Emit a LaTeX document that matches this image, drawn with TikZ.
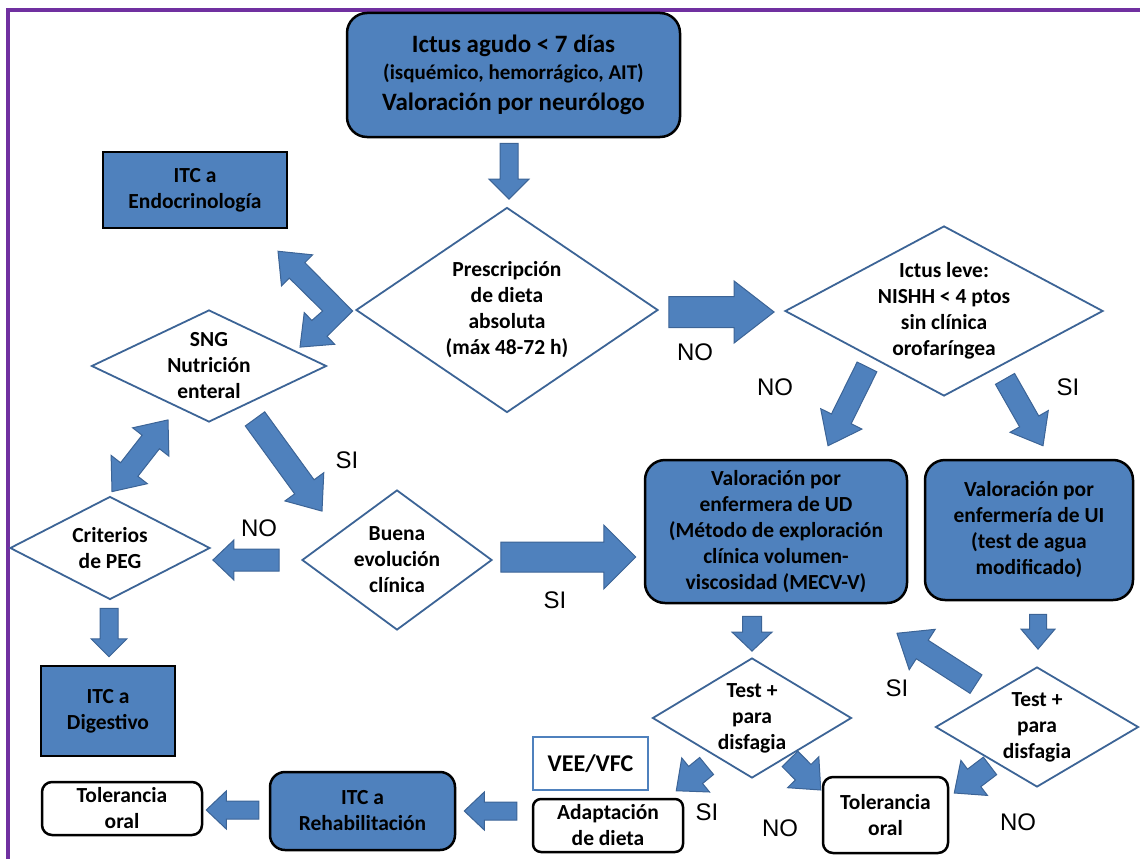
\documentclass[tikz,border=0pt]{standalone}
\usepackage{fontspec}
\setmainfont{Carlito}
\newfontfamily\arialfont{Liberation Sans}
\usetikzlibrary{shapes.geometric,calc}

\definecolor{azul}{HTML}{4F81BD}
\definecolor{azulosc}{HTML}{3C6496}
\definecolor{morado}{HTML}{7030A0}

\tikzset{
  caja/.style={draw=black, line width=2.5pt, fill=azul, align=center, inner sep=0pt,
    font=\bfseries\fontsize{21.5}{26}\selectfont},
  cajar/.style={caja, rounded corners=20pt},
  blanca/.style={caja, fill=white, rounded corners=10pt},
  decision/.style={diamond, draw=azulosc, line width=1.8pt, fill=white, align=center,
    inner sep=-3pt, font=\bfseries\fontsize{21.5}{26}\selectfont},
  flecha/.style={fill=azul, draw=azulosc, line width=1pt, line join=miter},
  etiqueta/.style={font=\arialfont\fontsize{24}{28}\selectfont, inner sep=0pt}
}

% block arrow: from, to, half shaft, half head, head length
\newcommand{\bflecha}[5]{%
  \coordinate (fa) at (#1);
  \coordinate (fb) at (#2);
  \coordinate (fh) at ($(fb)!#5!(fa)$);
  \draw[flecha] ($(fa)!#3!90:(fb)$) -- ($(fh)!#3!90:(fb)$) -- ($(fh)!#4!90:(fb)$) -- (fb)
    -- ($(fh)!#4!-90:(fb)$) -- ($(fh)!#3!-90:(fb)$) -- ($(fa)!#3!-90:(fb)$) -- cycle;}
% block arrow with two heads
\newcommand{\dflecha}[5]{%
  \coordinate (fa) at (#1);
  \coordinate (fb) at (#2);
  \coordinate (fh) at ($(fb)!#5!(fa)$);
  \coordinate (fg) at ($(fa)!#5!(fb)$);
  \draw[flecha] (fa) -- ($(fg)!#4!90:(fb)$) -- ($(fg)!#3!90:(fb)$) -- ($(fh)!#3!90:(fb)$)
    -- ($(fh)!#4!90:(fb)$) -- (fb) -- ($(fh)!#4!-90:(fb)$) -- ($(fh)!#3!-90:(fb)$)
    -- ($(fg)!#3!-90:(fb)$) -- ($(fg)!#4!-90:(fb)$) -- cycle;}

\begin{document}
\begin{tikzpicture}[x=1pt, y=-1pt]
\useasboundingbox (0,0) rectangle (1140,859);
% marco
\draw[morado, line width=4pt] (7.5,859) -- (7.5,10.5) -- (1140,10.5);

% nodos
\node[cajar, minimum width=333pt, minimum height=124pt] (ictus) at (513.5,75)
  {\fontsize{25}{29}\selectfont Ictus agudo < 7 días\\[1pt]
   \fontsize{21}{28}\selectfont (isquémico, hemorrágico, AIT)\\[5pt]
   \fontsize{25}{29}\selectfont Valoración por neurólogo};
\node[caja, minimum width=184pt, minimum height=76pt] (endo) at (195,190) {ITC a\\Endocrinología};
\node[decision, aspect=1.47, minimum width=302pt, minimum height=205pt] (presc) at (507,310)
  {Prescripción\\de dieta\\absoluta\\(máx 48-72 h)};
\node[decision, aspect=1.87, minimum width=318pt, minimum height=170pt] (leve) at (944,311)
  {Ictus leve:\\NISHH < 4 ptos\\sin clínica\\orofaríngea};
\node[decision, aspect=2.05, minimum width=235pt, minimum height=112pt] (sng) at (209,366)
  {SNG\\Nutrición\\enteral};
\node[decision, aspect=1.94, minimum width=200pt, minimum height=103pt] (peg) at (110,548)
  {Criterios\\de PEG};
\node[decision, aspect=1.36, minimum width=190pt, minimum height=140pt] (buena) at (397,560)
  {Buena\\evolución\\clínica};
\node[cajar, minimum width=262pt, minimum height=143pt] (ud) at (776,531.5)
  {Valoración por\\enfermera de UD\\(Método de exploración\\clínica volumen-\\viscosidad (MECV-V)};
\node[cajar, minimum width=208pt, minimum height=140pt] (ui) at (1029,530)
  {Valoración por\\enfermería de UI\\(test de agua\\modificado)};
\node[decision, aspect=1.66, minimum width=199pt, minimum height=120pt] (testud) at (752,718)
  {Test +\\para\\disfagia};
\node[decision, aspect=1.69, minimum width=203pt, minimum height=120pt] (testui) at (1037,727)
  {Test +\\para\\disfagia};
\node[caja, draw=azul, fill=white, minimum width=115pt, minimum height=53pt,
  font=\bfseries\fontsize{24}{28}\selectfont] (vee) at (590.5,763.5) {VEE/VFC};
\node[blanca, rounded corners=8pt, minimum width=150pt, minimum height=53pt] (adapt) at (608,825.5)
  {Adaptación\\de dieta};
\node[blanca, minimum width=125pt, minimum height=76pt] (tolui) at (885.5,815) {Tolerancia\\oral};
\node[cajar, rounded corners=15pt, minimum width=185pt, minimum height=78pt] (rehab) at (362.5,811)
  {ITC a\\Rehabilitación};
\node[blanca, minimum width=160pt, minimum height=53pt] (tolrh) at (122,808.5) {Tolerancia\\oral};
\node[caja, minimum width=134pt, minimum height=90pt] (dig) at (108,711) {ITC a\\Digestivo};

% flechas
\bflecha{$(ictus.south)+(-4.5,5)$}{$(presc.north)+(2,-7.5)$}{9pt}{20pt}{20pt}
\bflecha{$(presc.east)+(10,2)$}{$(leve.west)+(-10,1)$}{15.5pt}{31pt}{40pt}
\bflecha{$(leve.south)+(-77,-30)$}{$(ud.north)+(52,-13)$}{11pt}{23pt}{30pt}
\bflecha{$(leve.south)+(61,-18)$}{$(ui.north)+(14,-13)$}{11pt}{22pt}{28pt}
\bflecha{$(ud.south)+(-24,12)$}{$(testud.north)+(0,-6)$}{9.5pt}{20pt}{19pt}
\bflecha{$(ui.south)+(9,13)$}{$(testui.north)+(1,-17)$}{8.5pt}{17pt}{20pt}
\bflecha{$(testui.north)+(-61,18)$}{$(ud.south)+(121,29)$}{11pt}{24pt}{30pt}
\bflecha{$(testui.south)+(-47,-22)$}{$(tolui.east)+(5,-22)$}{11pt}{22pt}{25pt}
\bflecha{$(testud.west)+(55,48)$}{$(adapt.north east)+(-8,-7)$}{11pt}{22pt}{25pt}
\bflecha{$(testud.south)+(38,-20)$}{$(tolui.west)+(-1,-25)$}{11pt}{22pt}{25pt}
\bflecha{$(adapt.west)+(-15,-14.5)$}{$(rehab.east)+(8,0)$}{9pt}{19pt}{20pt}
\bflecha{$(rehab.west)+(-10,-1)$}{$(tolrh.east)+(3,1.5)$}{9pt}{19pt}{20pt}
\bflecha{$(peg.south)+(-1,8)$}{$(dig.north)+(1,-8)$}{9pt}{18pt}{18pt}
\bflecha{$(buena.west)+(-22,0)$}{$(peg.east)+(2,12)$}{11pt}{20pt}{21pt}
\bflecha{$(buena.east)+(8,-3)$}{$(ud.west)+(-8,25.5)$}{15pt}{32pt}{32pt}
\bflecha{$(sng.south)+(46,-4)$}{$(buena.north)+(-75,22)$}{12pt}{24pt}{30pt}
\dflecha{$(sng.south)+(-41,-3)$}{$(peg.north)+(2,-4)$}{11pt}{23pt}{28pt}

% flecha en codo
\coordinate (codo) at ($(presc.west)+(-17.5,1)$);
\coordinate (codoA) at ($(endo.south)+(83,22)$);
\coordinate (codoB) at ($(sng.north)+(91,38)$);
\coordinate (hA) at ($(codoA)!27pt!(codo)$);
\coordinate (hB) at ($(codoB)!27pt!(codo)$);
\draw[flecha] ($(codo)+(15,0)$) -- ($(hA)!11pt!-90:(codoA)$) -- ($(hA)!22pt!-90:(codoA)$) -- (codoA)
  -- ($(hA)!22pt!90:(codoA)$) -- ($(hA)!11pt!90:(codoA)$) -- ($(codo)+(-15,0)$)
  -- ($(hB)!11pt!-90:(codoB)$) -- ($(hB)!22pt!-90:(codoB)$) -- (codoB)
  -- ($(hB)!22pt!90:(codoB)$) -- ($(hB)!11pt!90:(codoB)$) -- cycle;

% etiquetas
\node[etiqueta] (no1) at (695,352) {NO};
\node[etiqueta] (no2) at (775,387) {NO};
\node[etiqueta] (si1) at (1068,387) {SI};
\node[etiqueta] (si2) at (347,460) {SI};
\node[etiqueta] (no3) at (259,528) {NO};
\node[etiqueta] (si3) at (555,600) {SI};
\node[etiqueta] (si4) at (897,688) {SI};
\node[etiqueta] (si5) at (707,812) {SI};
\node[etiqueta] (no4) at (780,828) {NO};
\node[etiqueta] (no5) at (1018,822) {NO};
\end{tikzpicture}
\end{document}
